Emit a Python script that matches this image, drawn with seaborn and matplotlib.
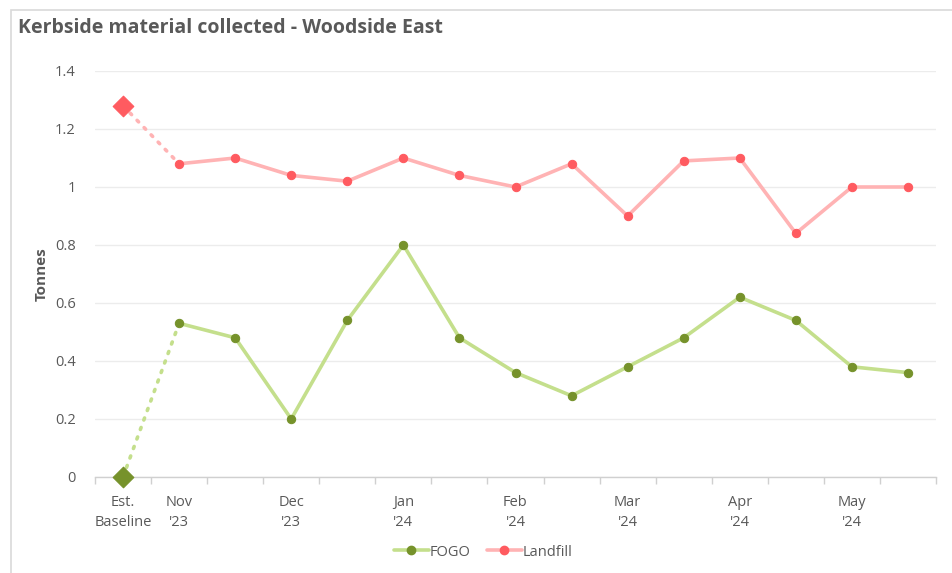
import matplotlib
matplotlib.use("Agg")
import matplotlib.pyplot as plt
from matplotlib.lines import Line2D
from matplotlib.patches import Rectangle
import seaborn as sns
import pandas as pd
import numpy as np

# Collection periods: baseline plus fortnightly collections
categories = ["Est.\nBaseline", "Nov\n'23", "", "Dec\n'23", "", "Jan\n'24", "",
              "Feb\n'24", "", "Mar\n'24", "", "Apr\n'24", "", "May\n'24", ""]
fogo = [0.0, 0.53, 0.48, 0.20, 0.54, 0.80, 0.48, 0.36, 0.28, 0.38, 0.48, 0.62, 0.54, 0.38, 0.36]
landfill = [1.28, 1.08, 1.10, 1.04, 1.02, 1.10, 1.04, 1.00, 1.08, 0.90, 1.09, 1.10, 0.84, 1.00, 1.00]
y_ticks = [0, 0.2, 0.4, 0.6, 0.8, 1.0, 1.2, 1.4]
y_tick_labels = ["0", "0.2", "0.4", "0.6", "0.8", "1", "1.2", "1.4"]

FOGO_LINE, FOGO_MARK = "#c4df8c", "#76922b"
LAND_LINE, LAND_MARK = "#ffb3b4", "#ff5b60"
TEXT = "#595959"

sns.set_theme(style="white")
plt.rcParams["font.family"] = ["Open Sans", "DejaVu Sans"]

df = pd.DataFrame({"pos": np.arange(len(categories)), "FOGO": fogo, "Landfill": landfill})
periods = df.iloc[1:]
baseline_link = df.iloc[:2]
baseline = df.iloc[:1]

fig = plt.figure(figsize=(9.52, 5.73), dpi=100)
fig.patches.append(Rectangle((11 / 952, -0.1), 1.2, 1 - 10 / 573 + 0.1, transform=fig.transFigure,
                             fill=False, edgecolor="#d9d9d9", linewidth=1.2))
ax = fig.add_axes([95 / 952, 1 - 477 / 573, (936 - 95) / 952, (477 - 71) / 573])

for col, lc, mc in [("FOGO", FOGO_LINE, FOGO_MARK), ("Landfill", LAND_LINE, LAND_MARK)]:
    # dotted link from the baseline estimate to the first collection
    sns.lineplot(data=baseline_link, x="pos", y=col, ax=ax, color=lc, linewidth=2.6,
                 linestyle=(0, (0.6, 2.2)), dash_capstyle="round", solid_capstyle="round", zorder=2)
    sns.lineplot(data=periods, x="pos", y=col, ax=ax, color=lc, linewidth=2.6, zorder=3,
                 marker="o", markersize=6, markerfacecolor=mc, markeredgecolor=mc)
    sns.scatterplot(data=baseline, x="pos", y=col, ax=ax, marker="D", s=110, color=mc,
                    edgecolor=mc, zorder=4, clip_on=False)

ax.set_xlim(-0.5, len(categories) - 0.5)
ax.set_ylim(0, 1.4)
ax.set_yticks(y_ticks)
ax.set_yticklabels(y_tick_labels)
ax.yaxis.grid(True, color="#ececec", linewidth=1)
ax.set_axisbelow(True)

ax.set_xticks(np.arange(-0.5, len(categories), 1.0))
ax.set_xticklabels([])
ax.set_xticks(np.arange(len(categories)), minor=True)
ax.set_xticklabels(categories, minor=True)
ax.tick_params(axis="x", which="major", length=5, width=1, color="#d0d0d0", bottom=True)
ax.tick_params(axis="x", which="minor", length=0, pad=13, labelsize=10.5, labelcolor=TEXT)
ax.tick_params(axis="y", length=0, pad=14, labelsize=10.5, labelcolor=TEXT)
for t in ax.get_xticklabels(minor=True):
    t.set_linespacing(1.45)

for s in ["top", "right", "left"]:
    ax.spines[s].set_visible(False)
ax.spines["bottom"].set_color("#d0d0d0")
ax.spines["bottom"].set_linewidth(1)

ax.set_xlabel("")
ax.set_ylabel("Tonnes", fontsize=11, fontweight="bold", color=TEXT, labelpad=4)

fig.text(18 / 952, 1 - 28 / 573, "Kerbside material collected - Woodside East", fontsize=14,
         fontweight="bold", color=TEXT, va="center", ha="left")

handles = [Line2D([], [], color=FOGO_LINE, linewidth=2.6, marker="o", markersize=6,
                  markerfacecolor=FOGO_MARK, markeredgecolor=FOGO_MARK),
           Line2D([], [], color=LAND_LINE, linewidth=2.6, marker="o", markersize=6,
                  markerfacecolor=LAND_MARK, markeredgecolor=LAND_MARK)]
fig.legend(handles, ["FOGO", "Landfill"], loc="center", bbox_to_anchor=(483 / 952, 1 - 552 / 573),
           ncol=2, frameon=False, fontsize=10.5, labelcolor=TEXT, handlelength=2.4,
           handletextpad=0.05, columnspacing=1.1)

fig.savefig("out.png", dpi=100)
